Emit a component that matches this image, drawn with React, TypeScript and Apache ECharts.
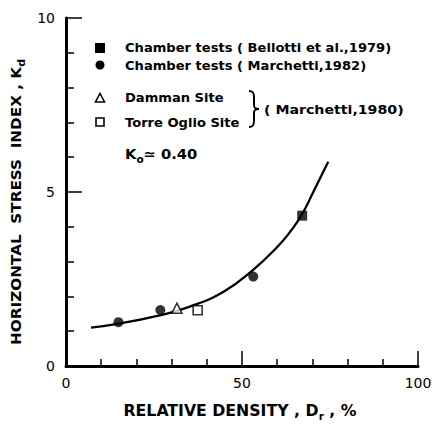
import React, { useEffect, useRef } from "react";
import * as echarts from "echarts";

// Data
const curvePoints: [number, number][] = [
  [7.1, 1.1], [15, 1.22], [25, 1.42], [35, 1.7], [45, 2.15], [53, 2.75],
  [60, 3.42], [64, 3.9], [67, 4.35], [70.5, 5.05], [74.5, 5.87],
];
const bellotti1979: [number, number][] = [[67.1, 4.32]];
const marchetti1982: [number, number][] = [[14.9, 1.26], [26.8, 1.61], [53.2, 2.57]];
const damman: [number, number][] = [[31.5, 1.66]];
const torreOglio: [number, number][] = [[37.4, 1.6]];
const xTickLabels = [0, 50, 100];
const yTickLabels = [0, 5, 10];

const legendNames = [
  "Chamber tests ( Bellotti et al.,1979)",
  "Chamber tests ( Marchetti,1982)",
  "Damman Site",
  "Torre Oglio Site",
];
const groupNote = "( Marchetti,1980)";
const k0Note = ["K", "o", "≃ 0.40"];
const xTitle = ["RELATIVE DENSITY , D", "r", " , %"];
const yTitle = ["HORIZONTAL  STRESS  INDEX , K", "d"];

const FONT = "DejaVu Sans";

echarts.graphic.registerShape(
  "brace",
  echarts.graphic.extendPath(
    "M0,0 C4,0 5,2 5,6 L5,14 C5,17 6,18 10,18 C6,18 5,19 5,22 L5,30 C5,34 4,36 0,36",
    {}
  )
);

export default function App() {
  const ref = useRef<HTMLDivElement>(null);
  useEffect(() => {
    if (!ref.current) return;
    const chart = echarts.init(ref.current, null, { renderer: "svg" });
    const black = "#000";
    const legendText = (y: number, text: string, x = 125, sx = 1.09) => ({
      type: "text",
      x,
      y,
      scaleX: sx,
      style: { text, font: `bold 12px ${FONT}`, fill: black, align: "left", verticalAlign: "middle" },
    });
    const richTitle = (size: number, sub: number) => ({
      t: { fontFamily: FONT, fontWeight: "bold", fontSize: size, color: black, lineHeight: size + 6, verticalAlign: "middle" },
      s: { fontFamily: FONT, fontWeight: "bold", fontSize: sub, color: black, lineHeight: size + 6, verticalAlign: "bottom" },
    });
    chart.setOption({
      animation: false,
      backgroundColor: "#fff",
      grid: { left: 66, right: 20, top: 18, bottom: 59, containLabel: false, outerBoundsMode: "none" },
      xAxis: {
        type: "value",
        min: 0,
        max: 100,
        interval: 50,
        splitLine: { show: false },
        axisLine: { lineStyle: { color: black, width: 3 } },
        axisTick: { inside: true, length: 15, lineStyle: { color: black, width: 1.5 } },
        minorTick: { show: true, splitNumber: 5, length: 7, lineStyle: { color: black, width: 1.5 } },
        axisLabel: {
          margin: 10,
          color: black,
          fontFamily: FONT,
          fontSize: 14,
          formatter: (v: number) => (xTickLabels.includes(v) ? String(v) : ""),
        },
      },
      yAxis: {
        type: "value",
        min: 0,
        max: 10,
        interval: 5,
        splitLine: { show: false },
        axisLine: { lineStyle: { color: black, width: 3 } },
        axisTick: { inside: true, length: 16, lineStyle: { color: black, width: 1.5 } },
        minorTick: { show: true, splitNumber: 5, length: 8, lineStyle: { color: black, width: 1.5 } },
        axisLabel: {
          margin: 11,
          color: black,
          fontFamily: FONT,
          fontSize: 14,
          formatter: (v: number) => (yTickLabels.includes(v) ? String(v) : ""),
        },
      },
      series: [
        {
          name: "curve",
          type: "line",
          data: curvePoints,
          smooth: 0.5,
          symbol: "none",
          lineStyle: { color: black, width: 2.3 },
          z: 2,
        },
        {
          name: legendNames[0],
          type: "scatter",
          data: bellotti1979,
          symbol: "rect",
          symbolSize: 10,
          itemStyle: { color: black },
          z: 3,
        },
        {
          name: legendNames[1],
          type: "scatter",
          data: marchetti1982,
          symbol: "circle",
          symbolSize: 10,
          itemStyle: { color: black },
          z: 3,
        },
        {
          name: legendNames[2],
          type: "scatter",
          data: damman,
          symbol: "triangle",
          symbolSize: 10,
          itemStyle: { color: "#fff", borderColor: black, borderWidth: 1.6 },
          z: 3,
        },
        {
          name: legendNames[3],
          type: "scatter",
          data: torreOglio,
          symbol: "rect",
          symbolSize: 9,
          itemStyle: { color: "#fff", borderColor: black, borderWidth: 1.6 },
          z: 3,
        },
      ],
      graphic: [
        { type: "rect", shape: { x: 95, y: 43, width: 10, height: 10 }, style: { fill: black } },
        { type: "circle", shape: { cx: 100, cy: 65, r: 4.5 }, style: { fill: black } },
        {
          type: "polygon",
          shape: { points: [[100, 93.5], [104.5, 102], [95.5, 102]] },
          style: { fill: "#fff", stroke: black, lineWidth: 1.6 },
        },
        { type: "rect", shape: { x: 96, y: 118, width: 8, height: 8 }, style: { fill: "#fff", stroke: black, lineWidth: 1.6 } },
        legendText(47.5, legendNames[0]),
        legendText(65.5, legendNames[1]),
        legendText(98, legendNames[2]),
        legendText(123, legendNames[3]),
        {
          type: "brace",
          x: 249,
          y: 91,
          scaleX: 1,
          scaleY: 1,
          style: { fill: "none", stroke: black, lineWidth: 2 },
        },
        legendText(110, groupNote, 264, 1.18),
        {
          type: "text",
          x: 125,
          y: 154,
          scaleX: 1.05,
          style: {
            text: `{k|${k0Note[0]}}{o|${k0Note[1]}}{e|${k0Note[2]}}`,
            align: "left",
            verticalAlign: "middle",
            rich: {
              k: { fontFamily: FONT, fontWeight: "bold", fontSize: 14, color: black, lineHeight: 20, verticalAlign: "middle" },
              o: { fontFamily: FONT, fontWeight: "bold", fontSize: 10, color: black, lineHeight: 20, verticalAlign: "bottom" },
              e: { fontFamily: FONT, fontWeight: "bold", fontSize: 14, color: black, lineHeight: 20, verticalAlign: "middle" },
            },
          },
        },
        {
          type: "text",
          x: 240,
          y: 411,
          scaleX: 1.05,
          style: {
            text: `{t|${xTitle[0]}}{s|${xTitle[1]}}{t|${xTitle[2]}}`,
            align: "center",
            verticalAlign: "middle",
            rich: richTitle(15, 10),
          },
        },
        {
          type: "text",
          x: 16,
          y: 202,
          rotation: Math.PI / 2,
          scaleX: 1.09,
          style: {
            text: `{t|${yTitle[0]}}{s|${yTitle[1]}}`,
            align: "center",
            verticalAlign: "middle",
            rich: richTitle(14, 10),
          },
        },
      ],
    });
    return () => chart.dispose();
  }, []);
  return (
    <div
      ref={ref}
      style={{ position: "absolute", left: 0, top: 0, width: 438, height: 425 }}
    />
  );
}
